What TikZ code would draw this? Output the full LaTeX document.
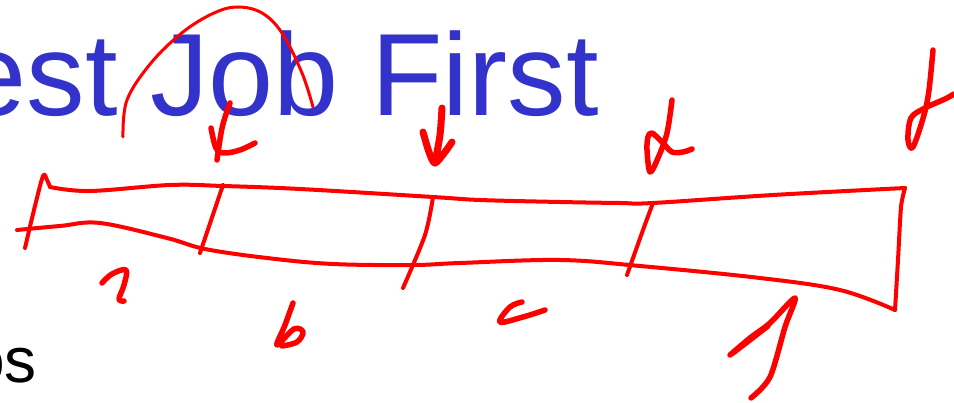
\documentclass[tikz,border=0pt]{standalone}
\usepackage{fontspec}
\setmainfont{Liberation Sans}
\definecolor{titleblue}{RGB}{51,51,204}
\definecolor{ink}{RGB}{255,0,0}
\tikzset{
  pen/.style={draw=ink, line width=4pt, line cap=round, line join=round},
  thickpen/.style={pen, line width=5.5pt},
  thinpen/.style={pen, line width=3pt}
}
\begin{document}
\begin{tikzpicture}[x=1pt,y=-1pt]
\useasboundingbox (0,0) rectangle (954,403);
\clip (0,0) rectangle (954,403);
\fill[white] (0,0) rectangle (954,403);
% texts
\node[font=\fontsize{117}{117}\selectfont, text=titleblue, anchor=base east, inner sep=0pt] (title) at (599,116) {est Job First};
\node[font=\fontsize{64}{64}\selectfont, text=black, anchor=base east, inner sep=0pt] (jobs) at (37,383) {os};
% arc over Job
\draw[thinpen] plot[smooth, tension=0.6] coordinates {(123,137) (127,100) (151,63) (183,32) (214,13) (238,7) (262,13) (282,33) (302,73) (313,107)};
% box: left edge with curl
\draw[pen] plot[smooth, tension=0.5] coordinates {(25,248) (34,210) (43,176) (47,180) (50,187)};
% top edge
\draw[pen] plot[smooth, tension=0.6] coordinates {(50,187) (90,191) (170,185) (223,186) (300,189) (433,197) (480,200) (560,202) (620,203) (653,203) (773,195) (905,188)};
% right edge
\draw[pen] plot[smooth, tension=0.4] coordinates {(905,188) (901,207) (898,260) (895,310)};
% bottom edge
\draw[pen] plot[smooth, tension=0.6] coordinates {(17,230) (60,226) (100,223) (167,238) (205,249) (267,258) (333,264) (413,265) (460,263) (560,260) (640,266) (760,278) (840,290) (895,310)};
% dividers
\draw[pen] (223,185) -- (200,253);
\draw[pen] plot[smooth, tension=0.5] coordinates {(433,197) (425,235) (403,288)};
\draw[pen] plot[smooth, tension=0.5] coordinates {(653,203) (643,230) (627,275)};
% bottom labels
\draw[thickpen] plot[smooth, tension=0.6] coordinates {(102,283) (112,274) (126,270) (124,285) (119,299) (124,301)};
\draw[thickpen] plot[smooth, tension=0.6] coordinates {(293,303) (285,325) (277,345) (294,329) (303,332) (297,342) (282,346)};
\draw[thickpen] plot[smooth, tension=0.6] coordinates {(522,302) (510,307) (500,322) (523,317) (545,310)};
\draw[thickpen] plot[smooth, tension=0.5] coordinates {(730,355) (750,338) (770,323) (795,298) (785,327) (770,377) (751,398)};
\draw[thickpen] (733,353) -- (768,326);
% top labels
\draw[thickpen] (230,103) .. controls (222,125) .. (217,160);
\draw[thickpen] plot[smooth, tension=0.6] coordinates {(211,128) (216,148) (224,153) (240,150) (255,143)};
\draw[pen, line width=7pt] plot[smooth, tension=0.5] coordinates {(442,108) (440,135) (435,163)};
\draw[pen, line width=7pt] plot[smooth, tension=0.5] coordinates {(423,132) (429,152) (435,163) (445,152) (452,142)};
\draw[thickpen] plot[smooth, tension=0.55] coordinates {(672,100) (667,133) (658,158) (650,172) (647,150) (648,137) (652,133) (662,142) (672,152) (683,152) (692,149)};
\draw[thickpen] plot[smooth, tension=0.55] coordinates {(933,50) (929,90) (924,115) (913,147) (908,140) (911,118) (925,108) (945,99) (954,94)};
\end{tikzpicture}
\end{document}
